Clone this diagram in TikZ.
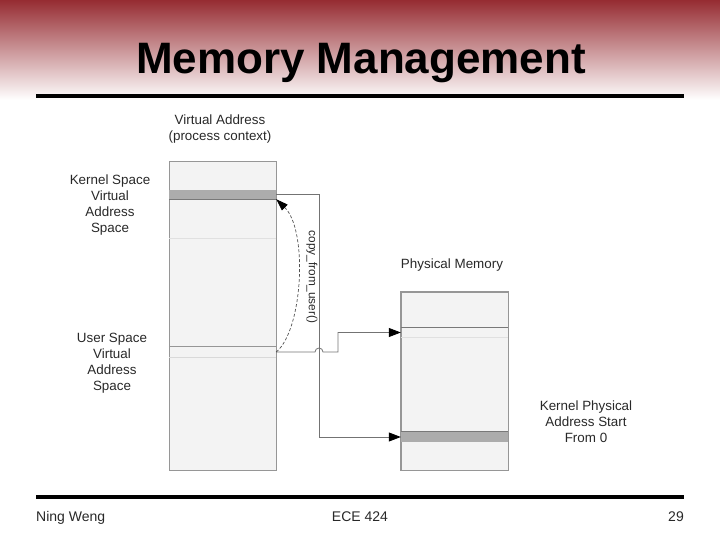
\documentclass[tikz,border=0pt]{standalone}
\usepackage{fontspec}
\setmainfont{Liberation Sans}
\usetikzlibrary{arrows.meta}

\definecolor{gradtop}{RGB}{150,44,50}
\definecolor{gradmid}{RGB}{196,142,145}
\definecolor{colfill}{RGB}{243,243,243}
\definecolor{colline}{RGB}{150,150,150}
\definecolor{bandfill}{RGB}{172,172,172}
\definecolor{linkgray}{RGB}{115,115,115}
\definecolor{txtgray}{RGB}{40,40,40}

\begin{document}
\begin{tikzpicture}[x=1bp, y=-1bp,
    memcol/.style={draw=colline, fill=colfill, line width=0.9bp, minimum width=107bp, inner sep=0pt},
    band/.style={fill=bandfill, minimum width=107bp, minimum height=9bp, inner sep=0pt},
    slot/.style={minimum width=107bp, minimum height=10bp, inner sep=0pt},
    link/.style={draw=linkgray, line width=0.8bp},
    tip/.style={-{Triangle[length=12bp, width=9bp, color=black]}},
    lbl/.style={font=\fontsize{13.4bp}{16bp}\selectfont, text=txtgray, align=center, inner sep=0pt},
    foot/.style={font=\fontsize{14bp}{16bp}\selectfont, text=txtgray, inner sep=0pt}]
    \useasboundingbox (0,0) rectangle (720,540);

    % Draw header gradient and title
    \shade[top color=gradtop, middle color=gradmid, bottom color=white] (0,0) rectangle (720,100);
    \node[anchor=base, font=\fontsize{44bp}{46bp}\selectfont\bfseries, inner sep=0pt] (title) at (361,73.5) {Memory Management};
    \draw[line width=3.5bp] (36,96) -- (684,96);

    % Draw virtual address column
    \node[memcol, minimum height=309bp] (virt) at (222.5,315.5) {};
    \node[band] (kband) at (222.5,194.5) {};
    \draw[colline!80!black, line width=0.8bp] (kband.south west) -- (kband.south east);
    \draw[black!12, line width=0.8bp] (169,238) -- (276,238);
    \node[slot] (uband) at (222.5,352) {};
    \draw[colline, line width=0.9bp] (uband.north west) -- (uband.north east);
    \draw[black!15, line width=0.8bp] (uband.south west) -- (uband.south east);

    % Draw physical memory column
    \node[memcol, minimum height=178bp] (phys) at (454.5,381) {};
    \node[slot, minimum height=9bp] (pusr) at (454.5,332.5) {};
    \draw[colline!80!black, line width=0.9bp] (pusr.north west) -- (pusr.north east);
    \draw[black!12, line width=0.8bp] (pusr.south west) -- (pusr.south east);
    \node[band, minimum height=10bp] (pband) at (454.5,437) {};
    \draw[colline!80!black, line width=0.8bp] (pband.north west) -- (pband.north east);
    \draw[colline, line width=0.9bp] (phys.north west) rectangle (phys.south east);

    % Draw mappings
    \draw[link, tip] (kband.east) -- ++(43,0) |- (pband.west);
    \draw[link, tip] (uband.east) -- (315,352) arc[start angle=180, end angle=360, radius=4] -- (338,352) |- (pusr.west);

    % Draw copy arrow
    \draw[linkgray!70!black, line width=0.7bp, dash pattern=on 3bp off 2bp, -{Triangle[length=12bp, width=8bp, color=black]}]
        (uband.east) .. controls (303,330) and (308,230) .. (kband.south east);
    \node[lbl, font=\fontsize{11.8bp}{14bp}\selectfont, rotate=-90] (copy) at (312,277) {copy\_from\_user()};

    % Draw labels
    \node[lbl] (vlabel) at (220,129) {Virtual Address\\(process context)};
    \node[lbl] (klabel) at (110,205) {Kernel Space\\Virtual\\Address\\Space};
    \node[lbl] (ulabel) at (112,363) {User Space\\Virtual\\Address\\Space};
    \node[lbl] (plabel) at (452,265) {Physical Memory};
    \node[lbl] (kplabel) at (586,422) {Kernel Physical\\Address Start\\From 0};

    % Draw footer
    \draw[line width=3.5bp] (36,497) -- (684,497);
    \node[foot, anchor=base west] (author) at (36,521) {Ning Weng};
    \node[foot, anchor=base] (course) at (360,521) {ECE 424};
    \node[foot, anchor=base east] (page) at (684,521) {29};
\end{tikzpicture}
\end{document}
